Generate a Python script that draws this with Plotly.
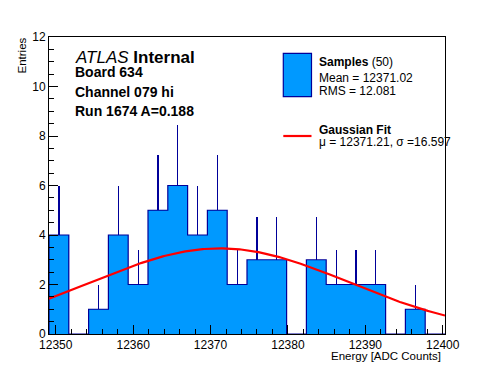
import numpy as np
import plotly.graph_objects as go

# ---- data ----
bin_low = 12349.13
bin_width = 2.558
counts = [4, 0, 1, 4, 2, 5, 6, 4, 5, 2, 3, 3, 0, 3, 2, 2, 2, 0, 1, 0]
x_range = [12349.13, 12400.29]
y_range = [0, 12]
x_tick_vals = [12350, 12360, 12370, 12380, 12390, 12400]
y_tick_vals = [0, 2, 4, 6, 8, 10, 12]
fit_mu = 12371.21
fit_sigma = 16.597
fit_amp = 3.46

header_lines = ["<i>ATLAS</i> <b>Internal</b>", "<b>Board 634</b>", "<b>Channel 079 hi</b>", "<b>Run 1674 A=0.188</b>"]
legend_hist = ["<b>Samples</b> (50)", "Mean = 12371.02", "RMS = 12.081"]
legend_fit = ["<b>Gaussian Fit</b>", "\u03bc = 12371.21, \u03c3 =16.597"]

FILL = "rgb(0,153,255)"
EDGE = "rgb(0,0,153)"
FONT = "Liberation Sans, Arial, sans-serif"

n = len(counts)
edges = [bin_low + i * bin_width for i in range(n + 1)]
centers = [bin_low + (i + 0.5) * bin_width for i in range(n)]
errs = [float(np.sqrt(c)) for c in counts]

# plot geometry (pixels)
W, H = 496, 372
L, R, T, B = 49, 51, 37, 38
PW, PH = W - L - R, H - T - B


def px(x):
    return (x - L) / PW


def py(y):
    return (H - B - y) / PH


fig = go.Figure()
fig.add_trace(go.Bar(
    x=centers, y=counts, width=bin_width,
    marker=dict(color=FILL, line=dict(width=0)),
    error_y=dict(type="data", array=errs, arrayminus=[0] * n,
                 color=EDGE, thickness=1.2, width=0),
    showlegend=False, hoverinfo="skip",
))
fig.add_trace(go.Scatter(
    x=[edges[0]] + edges, y=[0] + counts + [counts[-1]],
    mode="lines", line=dict(color=EDGE, width=1.2, shape="hv"),
    showlegend=False, hoverinfo="skip",
))
xf = np.linspace(x_range[0], x_range[1], 300)
yf = fit_amp * np.exp(-0.5 * ((xf - fit_mu) / fit_sigma) ** 2)
fig.add_trace(go.Scatter(
    x=xf, y=yf, mode="lines", line=dict(color="rgb(255,0,0)", width=2.2),
    showlegend=False, hoverinfo="skip",
))

ann = []
# header text
header_y = [57, 72, 91.5, 111]
header_size = [17, 14, 14, 14]
for t, yy, s in zip(header_lines, header_y, header_size):
    ann.append(dict(text=t, x=px(73), y=py(yy), xref="paper", yref="paper",
                    xanchor="left", yanchor="middle", showarrow=False,
                    font=dict(size=s, color="black", family=FONT)))
# legend text
for t, yy in zip(legend_hist, [62, 77.5, 90.5]):
    ann.append(dict(text=t, x=px(317), y=py(yy), xref="paper", yref="paper",
                    xanchor="left", yanchor="middle", showarrow=False,
                    font=dict(size=12, color="black", family=FONT)))
for t, yy in zip(legend_fit, [129.5, 142]):
    ann.append(dict(text=t, x=px(317), y=py(yy), xref="paper", yref="paper",
                    xanchor="left", yanchor="middle", showarrow=False,
                    font=dict(size=12, color="black", family=FONT)))
# axis titles
ann.append(dict(text="Energy [ADC Counts]", x=px(443), y=py(356), xref="paper", yref="paper",
                xanchor="right", yanchor="middle", showarrow=False,
                font=dict(size=11.5, color="black", family=FONT)))
ann.append(dict(text="Entries", x=px(21.5), y=py(36), xref="paper", yref="paper",
                xanchor="center", yanchor="top", textangle=-90, showarrow=False,
                font=dict(size=11.5, color="black", family=FONT)))

shapes = [
    dict(type="rect", xref="paper", yref="paper", x0=px(283.3), x1=px(311.5),
         y0=py(96.7), y1=py(53.3), fillcolor=FILL, line=dict(color=EDGE, width=1.2)),
    dict(type="line", xref="paper", yref="paper", x0=px(283.3), x1=px(311.5),
         y0=py(136), y1=py(136), line=dict(color="rgb(255,0,0)", width=2.2)),
]

axis_common = dict(showline=True, linecolor="black", linewidth=1, mirror=True,
                   ticks="inside", tickcolor="black", ticklen=9, tickwidth=1,
                   showgrid=False, zeroline=False,
                   tickfont=dict(size=12, color="black", family=FONT))
fig.update_layout(
    width=W, height=H, margin=dict(l=L, r=R, t=T, b=B),
    paper_bgcolor="white", plot_bgcolor="white",
    bargap=0, annotations=ann, shapes=shapes,
    xaxis=dict(range=x_range, tickvals=x_tick_vals, ticktext=[str(v) for v in x_tick_vals],
               minor=dict(dtick=2, tick0=12350, ticks="inside", ticklen=5, tickcolor="black", showgrid=False),
               **axis_common),
    yaxis=dict(range=y_range, tickvals=y_tick_vals, ticktext=[str(v) for v in y_tick_vals],
               minor=dict(dtick=0.5, tick0=0, ticks="inside", ticklen=5, tickcolor="black", showgrid=False),
               **axis_common),
)
fig.write_html("out.html", config={"displayModeBar": False},
               post_script="document.body.style.margin='0';document.body.style.padding='0';")
